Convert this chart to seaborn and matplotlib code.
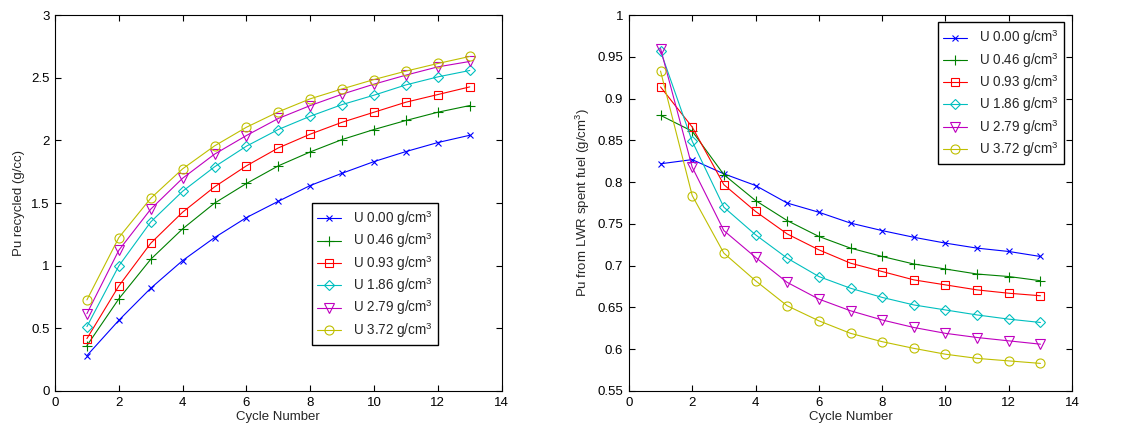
import numpy as np
import pandas as pd
import matplotlib
matplotlib.use("Agg")
import matplotlib.pyplot as plt
from matplotlib.ticker import FuncFormatter
import seaborn as sns

cycles = list(range(1, 14))
labels = ["U 0.00 g/cm$^3$", "U 0.46 g/cm$^3$", "U 0.93 g/cm$^3$",
          "U 1.86 g/cm$^3$", "U 2.79 g/cm$^3$", "U 3.72 g/cm$^3$"]

# Left panel: Pu recycled (g/cc)
recycled_u000 = [0.282, 0.564, 0.820, 1.041, 1.224, 1.384, 1.514, 1.640, 1.738, 1.831, 1.911, 1.983, 2.041]
recycled_u046 = [0.362, 0.735, 1.051, 1.294, 1.499, 1.656, 1.797, 1.908, 2.007, 2.087, 2.159, 2.225, 2.278]
recycled_u093 = [0.418, 0.838, 1.179, 1.427, 1.629, 1.797, 1.940, 2.050, 2.145, 2.225, 2.305, 2.366, 2.427]
recycled_u186 = [0.514, 0.998, 1.349, 1.594, 1.789, 1.954, 2.087, 2.193, 2.286, 2.361, 2.443, 2.507, 2.558]
recycled_u279 = [0.617, 1.123, 1.451, 1.698, 1.890, 2.039, 2.175, 2.278, 2.369, 2.449, 2.521, 2.587, 2.630]
recycled_u372 = [0.727, 1.224, 1.538, 1.773, 1.956, 2.105, 2.228, 2.332, 2.411, 2.486, 2.553, 2.614, 2.670]

# Right panel: Pu from LWR spent fuel (g/cm3)
lwr_u000 = [0.822, 0.827, 0.810, 0.796, 0.775, 0.764, 0.751, 0.742, 0.734, 0.727, 0.721, 0.717, 0.711]
lwr_u046 = [0.880, 0.861, 0.809, 0.778, 0.754, 0.735, 0.721, 0.711, 0.702, 0.696, 0.690, 0.687, 0.682]
lwr_u093 = [0.914, 0.866, 0.797, 0.765, 0.738, 0.719, 0.703, 0.693, 0.683, 0.677, 0.671, 0.667, 0.664]
lwr_u186 = [0.957, 0.849, 0.770, 0.737, 0.709, 0.687, 0.673, 0.662, 0.653, 0.647, 0.641, 0.636, 0.632]
lwr_u279 = [0.960, 0.818, 0.742, 0.710, 0.680, 0.660, 0.646, 0.635, 0.626, 0.619, 0.614, 0.610, 0.606]
lwr_u372 = [0.933, 0.784, 0.715, 0.682, 0.652, 0.634, 0.619, 0.609, 0.601, 0.594, 0.589, 0.586, 0.583]

recycled = [recycled_u000, recycled_u046, recycled_u093, recycled_u186, recycled_u279, recycled_u372]
lwr = [lwr_u000, lwr_u046, lwr_u093, lwr_u186, lwr_u279, lwr_u372]

colors = [(0, 0, 1), (0, 0.5, 0), (1, 0, 0), (0, 0.75, 0.75), (0.75, 0, 0.75), (0.75, 0.75, 0)]
markers = ["x", "+", "s", "D", "v", "o"]
msizes = [4, 6.5, 6, 5, 6.5, 6.5]

sns.set_style("ticks")
plt.rcParams["font.family"] = ["Liberation Sans", "DejaVu Sans"]
plt.rcParams["mathtext.fontset"] = "custom"
plt.rcParams["mathtext.rm"] = "Liberation Sans"
plt.rcParams["font.size"] = 9.5

fig = plt.figure(figsize=(11.25, 4.32), dpi=100)
ax1 = fig.add_axes([0.0489, 0.095, 0.397, 0.870])
ax2 = fig.add_axes([0.559, 0.095, 0.394, 0.870])

def draw(ax, series):
    for vals, lab, c, m, ms in zip(series, labels, colors, markers, msizes):
        df = pd.DataFrame({"cycle": cycles, "val": vals})
        sns.lineplot(data=df, x="cycle", y="val", ax=ax, color=c, marker=m,
                     markersize=ms, mfc="none", mec=c, mew=0.8, lw=0.8,
                     label=lab)

draw(ax1, recycled)
draw(ax2, lwr)

fmt = FuncFormatter(lambda v, p: "%g" % round(v, 4))
for ax in (ax1, ax2):
    ax.set_xlim(0, 14)
    ax.set_xticks(range(0, 15, 2))
    ax.xaxis.set_major_formatter(fmt)
    ax.yaxis.set_major_formatter(fmt)
    ax.tick_params(direction="in", top=True, right=True, length=4, width=0.8,
                   labelsize=9.5, colors="black", pad=4)
    for s in ax.spines.values():
        s.set_visible(True)
        s.set_linewidth(0.8)
        s.set_color("black")
    ax.set_xlabel("Cycle Number", fontsize=9.5, labelpad=2)
    ax.grid(False)

ax1.set_ylim(0, 3)
ax1.set_yticks(np.arange(0, 3.01, 0.5))
ax1.set_ylabel("Pu recycled (g/cc)", fontsize=9.5)
ax2.set_ylim(0.55, 1.0)
ax2.set_yticks(np.arange(0.55, 1.001, 0.05))
ax2.set_ylabel("Pu from LWR spent fuel (g/cm$^3$)", fontsize=9.5)

legkw = dict(frameon=True, fancybox=False, edgecolor="black", framealpha=1,
             fontsize=9.75, handlelength=1.75, handletextpad=0.9,
             labelspacing=0.2, borderpad=0.4, borderaxespad=0)
l1 = ax1.legend(loc="lower left", bbox_to_anchor=(0.575, 0.122), **legkw)
l2 = ax2.legend(loc="upper right", bbox_to_anchor=(0.982, 0.981), **legkw)
for l in (l1, l2):
    l.get_frame().set_linewidth(1.0)

fig.savefig("out.png", dpi=100)
